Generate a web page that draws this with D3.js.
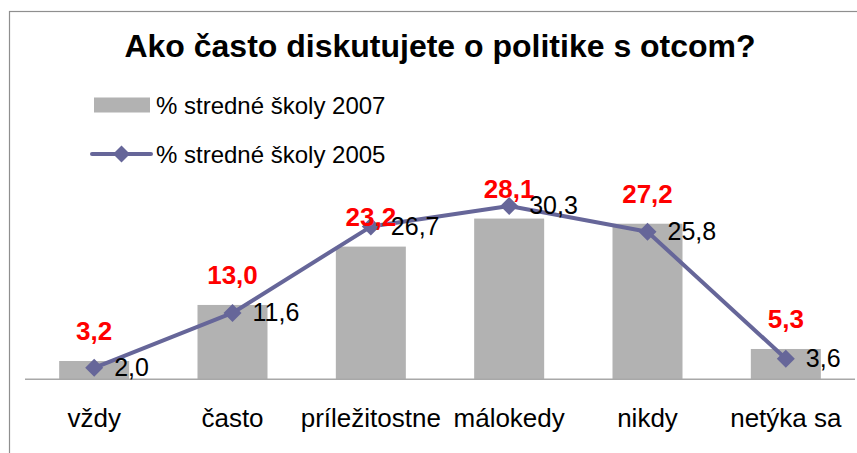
<!DOCTYPE html>
<html>
<head>
<meta charset="utf-8">
<script src="https://cdn.jsdelivr.net/npm/d3@7"></script>
<style>
  body { margin: 0; background: #fff; }
  svg { display: block; font-family: "Liberation Sans", Arial, sans-serif; }
</style>
</head>
<body>
<div id="chart"></div>
<script>
// data
var categories = ["vždy", "často", "príležitostne", "málokedy", "nikdy", "netýka sa"];
var values2007 = [3.2, 13.0, 23.2, 28.1, 27.2, 5.3];
var values2005 = [2.0, 11.6, 26.7, 30.3, 25.8, 3.6];
var seriesNames = ["% stredné školy 2007", "% stredné školy 2005"];
var chartTitle = "Ako často diskutujete o politike s otcom?";

var width = 857, height = 453;
var barColor = "#b2b2b2", lineColor = "#666699";

var svg = d3.select("#chart").append("svg")
    .attr("width", width)
    .attr("height", height);

// chart frame (runs off the right and bottom edges)
svg.append("rect")
    .attr("x", 9.5).attr("y", 11.5)
    .attr("width", 900).attr("height", 500)
    .attr("fill", "#fff")
    .attr("stroke", "#8f8f8f")
    .attr("stroke-width", 1.2);

// title
svg.append("text")
    .attr("x", 440).attr("y", 57)
    .attr("text-anchor", "middle")
    .style("font-size", "32px")
    .style("font-weight", "bold")
    .text(chartTitle);

// scales
var x = d3.scaleBand()
    .domain(categories)
    .range([25, 855])
    .paddingInner(0.494)
    .paddingOuter(0.247);

var xc = function (d) { return x(d) + x.bandwidth() / 2; };

var y = d3.scaleLinear()
    .domain([0, 35])
    .range([379.3, 379.3 - 35 * 5.72]);

// bars
svg.append("g").selectAll("rect")
    .data(values2007)
    .enter()
    .append("rect")
    .attr("x", function (d, i) { return x(categories[i]); })
    .attr("width", x.bandwidth())
    .attr("y", function (d) { return y(d); })
    .attr("height", function (d) { return y(0) - y(d); })
    .attr("fill", barColor);

// axis line
svg.append("line")
    .attr("x1", 25).attr("x2", 855)
    .attr("y1", y(0)).attr("y2", y(0))
    .attr("stroke", "#a8a8a8")
    .attr("stroke-width", 1.5);

// category labels
svg.append("g").selectAll("text")
    .data(categories)
    .enter()
    .append("text")
    .attr("x", function (d) { return xc(d); })
    .attr("y", 427)
    .attr("text-anchor", "middle")
    .style("font-size", "26px")
    .text(function (d) { return d; });

// line 2005
var line = d3.line()
    .x(function (d, i) { return xc(categories[i]); })
    .y(function (d) { return y(d); });

svg.append("path")
    .datum(values2005)
    .attr("d", line)
    .attr("fill", "none")
    .attr("stroke", lineColor)
    .attr("stroke-width", 4)
    .attr("stroke-linejoin", "round");

var diamond = function (cx, cy, r) {
    return "M" + cx + "," + (cy - r) + "L" + (cx + r) + "," + cy +
        "L" + cx + "," + (cy + r) + "L" + (cx - r) + "," + cy + "Z";
};

svg.append("g").selectAll("path")
    .data(values2005)
    .enter()
    .append("path")
    .attr("d", function (d, i) { return diamond(xc(categories[i]), y(d), 9); })
    .attr("fill", lineColor);

var fmt = function (v) { return d3.format(".1f")(v).replace(".", ","); };

// red labels above bars
svg.append("g").selectAll("text")
    .data(values2007)
    .enter()
    .append("text")
    .attr("x", function (d, i) { return xc(categories[i]); })
    .attr("y", function (d) { return y(d) - 20.5; })
    .attr("text-anchor", "middle")
    .attr("fill", "#ff0000")
    .style("font-size", "26px")
    .style("font-weight", "bold")
    .text(fmt);

// black labels right of line points
svg.append("g").selectAll("text")
    .data(values2005)
    .enter()
    .append("text")
    .attr("x", function (d, i) { return xc(categories[i]) + 20; })
    .attr("y", function (d) { return y(d) + 8.5; })
    .style("font-size", "25px")
    .text(fmt);

// legend
var lg = svg.append("g");
lg.append("rect")
    .attr("x", 94).attr("y", 97.5)
    .attr("width", 56).attr("height", 15)
    .attr("fill", barColor);
lg.append("text")
    .attr("x", 156).attr("y", 113.5)
    .style("font-size", "24px")
    .text(seriesNames[0]);

lg.append("line")
    .attr("x1", 92).attr("x2", 151)
    .attr("y1", 154).attr("y2", 154)
    .attr("stroke", lineColor)
    .attr("stroke-width", 4)
    .attr("stroke-linecap", "round");
lg.append("path")
    .attr("d", diamond(121.5, 154, 8.5))
    .attr("fill", lineColor);
lg.append("text")
    .attr("x", 156).attr("y", 163)
    .style("font-size", "24px")
    .text(seriesNames[1]);
</script>
</body>
</html>
